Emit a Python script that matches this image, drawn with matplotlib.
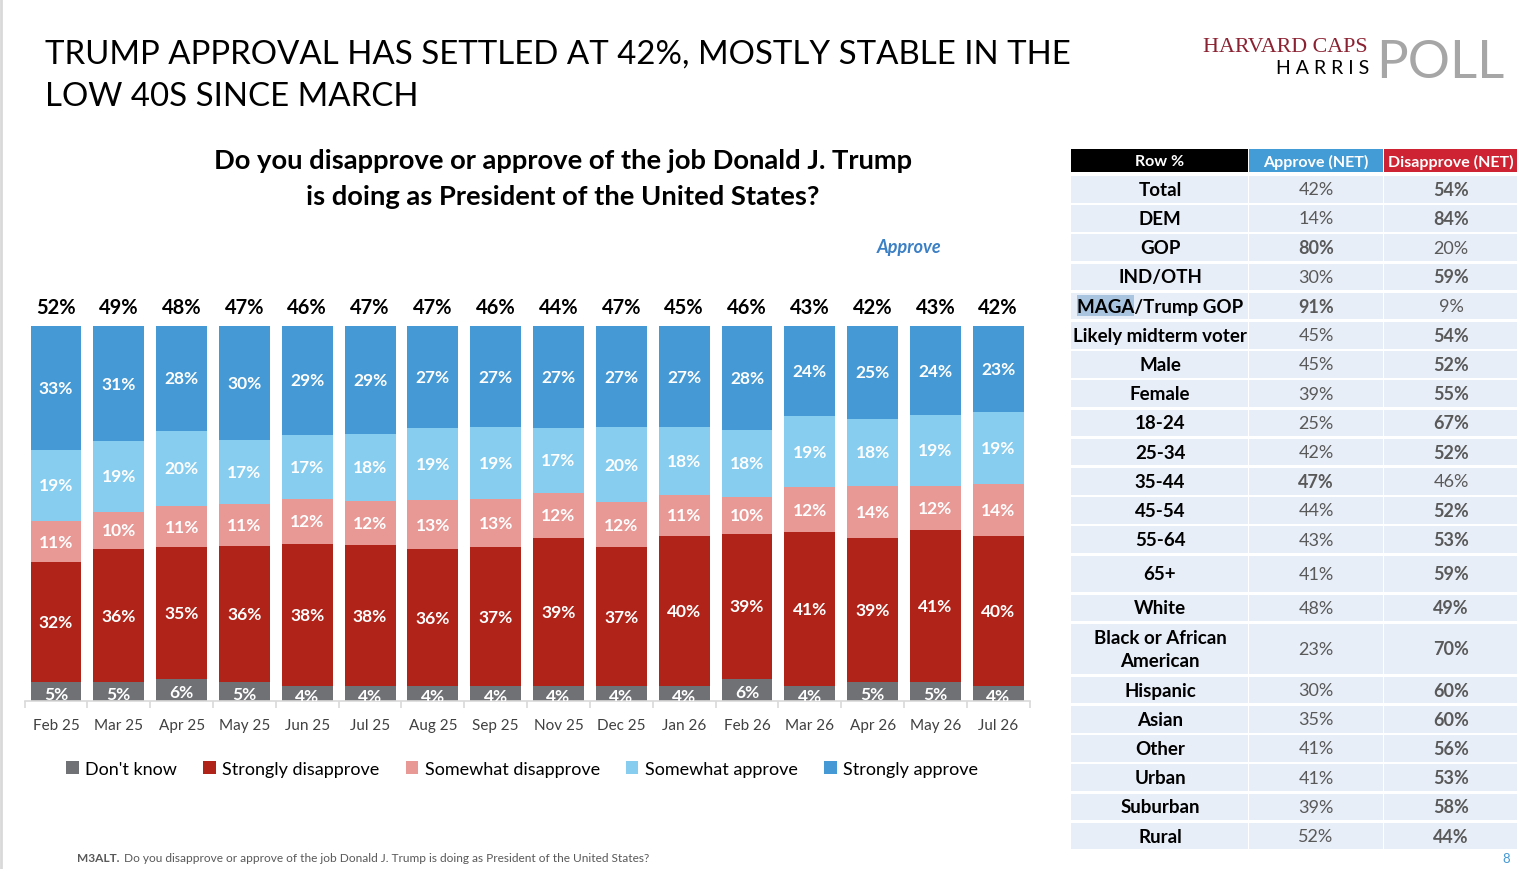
import matplotlib
matplotlib.use("Agg")
import matplotlib.pyplot as plt
from matplotlib.patches import Rectangle
import numpy as np

plt.rcParams['font.family'] = ['Lato', 'DejaVu Sans']

################################################################################
# chart data
months = ['Feb 25', 'Mar 25', 'Apr 25', 'May 25', 'Jun 25', 'Jul 25', 'Aug 25',
          'Sep 25', 'Nov 25', 'Dec 25', 'Jan 26', 'Feb 26', 'Mar 26', 'Apr 26',
          'May 26', 'Jul 26']
dont_know = [5, 5, 6, 5, 4, 4, 4, 4, 4, 4, 4, 6, 4, 5, 5, 4]
strongly_disapprove = [32, 36, 35, 36, 38, 38, 36, 37, 39, 37, 40, 39, 41, 39, 41, 40]
somewhat_disapprove = [11, 10, 11, 11, 12, 12, 13, 13, 12, 12, 11, 10, 12, 14, 12, 14]
somewhat_approve = [19, 19, 20, 17, 17, 18, 19, 19, 17, 20, 18, 18, 19, 18, 19, 19]
strongly_approve = [33, 31, 28, 30, 29, 29, 27, 27, 27, 27, 27, 28, 24, 25, 24, 23]
approve_net = [52, 49, 48, 47, 46, 47, 47, 46, 44, 47, 45, 46, 43, 42, 43, 42]

series_names = ["Don't know", 'Strongly disapprove', 'Somewhat disapprove',
                'Somewhat approve', 'Strongly approve']
series_colors = ['#707175', '#B02318', '#E89895', '#87CDEF', '#4599D4']

# table data
groups = ['Total', 'DEM', 'GOP', 'IND/OTH', 'MAGA/Trump GOP', 'Likely midterm voter',
          'Male', 'Female', '18-24', '25-34', '35-44', '45-54', '55-64', '65+',
          'White', 'Black or African\nAmerican', 'Hispanic', 'Asian', 'Other',
          'Urban', 'Suburban', 'Rural']
group_approve = [42, 14, 80, 30, 91, 45, 45, 39, 25, 42, 47, 44, 43, 41, 48, 23,
                 30, 35, 41, 41, 39, 52]
group_disapprove = [54, 84, 20, 59, 9, 54, 52, 55, 67, 52, 46, 52, 53, 59, 49, 70,
                    60, 60, 56, 53, 58, 44]
bold_approve = [g in ('GOP', 'MAGA/Trump GOP', '35-44') for g in groups]
bold_disapprove = [not b for b in bold_approve]
################################################################################

W, H = 1536, 870
fig = plt.figure(figsize=(W / 100, H / 100), dpi=100)
fig.patch.set_facecolor('white')


def fx(px):
    return px / W


def fy(py):
    return 1 - py / H


# overlay axes in pixel coords for text / table
ov = fig.add_axes([0, 0, 1, 1])
ov.set_xlim(0, W)
ov.set_ylim(H, 0)
ov.axis('off')
ov.patch.set_alpha(0)

ov.plot([1, 1], [0, H], color='#D9D9D9', lw=2)

# titles
ov.text(45, 55, 'TRUMP APPROVAL HAS SETTLED AT 42%, MOSTLY STABLE IN THE',
        fontsize=23.8, va='center', ha='left', color='black')
ov.text(45, 97, 'LOW 40S SINCE MARCH', fontsize=23.8, va='center', ha='left',
        color='black')
ov.text(563, 161, 'Do you disapprove or approve of the job Donald J. Trump',
        fontsize=19.7, fontweight='bold', ha='center', va='center')
ov.text(563, 197, 'is doing as President of the United States?',
        fontsize=19.7, fontweight='bold', ha='center', va='center')
ov.text(909, 248, 'Approve', fontsize=13, fontweight='bold', fontstyle='italic',
        color='#3B7FC4', ha='center', va='center')

# logo
ov.text(1368, 48, 'HARVARD CAPS', family='Liberation Serif', fontsize=15.8,
        color='#8B2232', ha='right', va='center')
ov.text(1369, 69, 'H A R R I S', fontsize=14, color='black', ha='right',
        va='center')
ov.text(1376, 78, 'POLL', fontsize=38, color='#A6A6A6', ha='left',
        va='baseline')

# footnote and page number
fn = ov.text(77, 859, 'M3ALT.', fontsize=8.6, fontweight='bold', color='#595959',
             va='center')
ov.annotate('Do you disapprove or approve of the job Donald J. Trump is doing '
            'as President of the United States?', xy=(1, 0.5), xycoords=fn,
            xytext=(3, 0), textcoords='offset points', fontsize=8.6,
            color='#595959', va='center')
ov.text(1506, 859, '8', fontsize=9.5, color='#4599D4', va='center', ha='center')

################################################################################
# stacked 100% bars
ax = fig.add_axes([fx(24.6), fy(702), fx(1005), 375 / H])
stack = np.array([dont_know, strongly_disapprove, somewhat_disapprove,
                  somewhat_approve, strongly_approve], dtype=float)
shares = stack / stack.sum(axis=0) * 100
x = np.arange(len(months))
bottom = np.zeros(len(months))
handles = []
for k in range(len(series_names)):
    bars = ax.bar(x, shares[k], 0.81, bottom=bottom, color=series_colors[k],
                  label=series_names[k], linewidth=0)
    handles.append(bars)
    for i in range(len(months)):
        yc = bottom[i] + shares[k][i] / 2
        if k == 0:
            yc -= 0.6
        ax.text(x[i], yc, f'{int(stack[k][i])}%', color='white',
                fontsize=12.5, fontweight='bold', ha='center', va='center',
                clip_on=True)
    bottom += shares[k]

for i in range(len(months)):
    ax.annotate(f'{approve_net[i]}%', (x[i], 100), xytext=(0, 14),
                textcoords='offset points', ha='center', va='center',
                fontsize=14.5, fontweight='bold', annotation_clip=False)

ax.set_xlim(-0.5, len(months) - 0.5)
ax.set_ylim(0, 100)
ax.set_yticks([])
for s in ['top', 'left', 'right']:
    ax.spines[s].set_visible(False)
ax.spines['bottom'].set_color('#D9D9D9')
ax.spines['bottom'].set_linewidth(1.2)
ax.set_xticks(x)
ax.set_xticklabels(months, fontsize=11, color='#404040')
ax.tick_params(axis='x', which='major', length=0, pad=12)
ax.set_xticks(np.arange(-0.5, len(months)), minor=True)
ax.tick_params(axis='x', which='minor', length=5, color='#D9D9D9', width=1.2)

fig.legend(handles=handles, labels=series_names, loc='center',
           bbox_to_anchor=(fx(522), fy(770)), ncol=5, frameon=False,
           fontsize=13, handlelength=0.7, handleheight=0.7,
           handletextpad=0.35, columnspacing=1.45)

################################################################################
# table at right
col_edges = [(1071, 1248), (1249, 1383), (1384, 1517)]
header_colors = ['black', '#449CD6', '#CD2332']
header_text = ['Row %', 'Approve (NET)', 'Disapprove (NET)']
for (x0, x1), c, t in zip(col_edges, header_colors, header_text):
    ov.add_patch(Rectangle((x0, 150), x1 - x0, 23, color=c, lw=0))
    ov.text((x0 + x1) / 2, 162, t, color='white', fontsize=11.5,
            fontweight='bold', ha='center', va='center')

pitch = {'65+': 39.0, 'Black or African\nAmerican': 53.0}
top = 177.0
for g, a, d, ba, bd in zip(groups, group_approve, group_disapprove,
                           bold_approve, bold_disapprove):
    p = pitch.get(g, 29.2)
    h = p - 2.6
    for x0, x1 in col_edges:
        ov.add_patch(Rectangle((x0, top), x1 - x0, h, color='#E8EEF7', lw=0))
    yc = top + h / 2
    if g == 'MAGA/Trump GOP':
        ov.add_patch(Rectangle((1077, yc - 11), 57, 21, color='#A9C4DE', lw=0))
    ov.text(1160, yc, g, fontsize=13.5, fontweight='bold', ha='center',
            va='center', color='black', linespacing=1.45)
    ov.text(1316, yc, f'{a}%', fontsize=13, ha='center', va='center',
            color='#595959', fontweight='bold' if ba else 'normal')
    ov.text(1451, yc, f'{d}%', fontsize=13, ha='center', va='center',
            color='#595959', fontweight='bold' if bd else 'normal')
    top += p

fig.savefig('out.png', dpi=100)
